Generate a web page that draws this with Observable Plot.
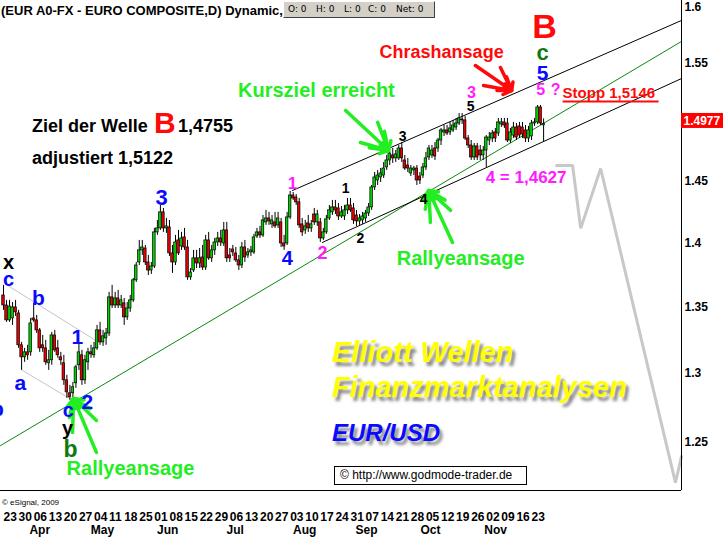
<!DOCTYPE html>
<html><head><meta charset="utf-8">
<script src="https://cdn.jsdelivr.net/npm/d3@7"></script>
<script src="https://cdn.jsdelivr.net/npm/@observablehq/plot@0.6"></script>
<style>
body{margin:0;background:#fff;}
#wrap{position:relative;width:723px;height:542px;overflow:hidden;font-family:"Liberation Sans",Arial,sans-serif;}
.ov{position:absolute;white-space:nowrap;line-height:1;}
</style></head><body><div id="wrap"></div>
<script>
// ---- daily candles (trading-day index 0 = Mon 23 Mar 2009) ----
const open = [
1.3588,1.3511,1.3397,1.3412,1.3496,1.3450,1.3209,1.3119,1.3156,1.3156,
1.3412,1.3397,1.3321,1.3209,1.3186,1.3075,1.3097,1.3283,1.3186,1.3119,
1.3075,1.2949,1.2854,1.2854,1.2927,1.3060,1.3134,1.2949,1.3082,1.3156,
1.3134,1.3186,1.3321,1.3231,1.3261,1.3298,1.3573,1.3511,1.3565,1.3511,
1.3527,1.3420,1.3488,1.3550,1.3705,1.3845,
1.3940,1.3955,1.3845,1.3782,1.3813,1.4083,1.4115,1.4244,1.4115,1.4123,
1.3916,1.3845,1.4019,1.3971,1.4043,1.3963,1.3728,1.3782,1.3877,1.3837,
1.3884,1.3805,1.4019,1.3877,1.3940,1.4003,1.4035,1.3995,1.4099,1.3900,
1.3947,1.3916,1.3861,1.3821,1.3963,1.3900,1.3924,1.3924,1.4051,1.4083,
1.4059,1.4163,1.4195,1.4147,1.4163,
1.4139,1.4163,1.3995,1.3995,1.4203,1.4381,1.4365,1.4325,1.4147,1.4099,
1.4155,1.4115,1.4227,1.4163,1.4163,1.4035,1.4083,1.4195,1.4244,1.4284,
1.4276,1.4211,1.4211,1.4260,1.4300,1.4276,1.4219,1.4171,1.4179,1.4195,
1.4235,1.4284,1.4447,1.4504,1.4529,1.4545,1.4612,1.4670,1.4712,1.4687,
1.4687,1.4770,
1.4670,1.4628,1.4562,1.4587,1.4603,1.4537,1.4545,1.4612,1.4695,1.4712,
1.4770,1.4770,1.4837,1.4905,1.4922,1.4905,1.4922,1.4947,1.4981,1.5015,
1.5007,1.4854,1.4795,1.4695,1.4787,1.4753,1.4712,1.4753,1.4837,1.4854,
1.4905,1.4896,1.4973,1.4990,1.4981,1.4837,1.4879,1.4947,1.4956,1.4947,
1.4922,1.4854,1.4871,1.4981,1.4990,1.5118,1.4965];
const high = [
1.3666,1.3550,1.3550,1.3534,1.3550,1.3473,1.3231,1.3186,1.3209,1.3412,
1.3527,1.3435,1.3336,1.3283,1.3246,1.3171,1.3306,1.3321,1.3246,1.3156,
1.3134,1.2986,1.2912,1.2934,1.3060,1.3231,1.3171,1.3134,1.3186,1.3209,
1.3231,1.3359,1.3382,1.3321,1.3336,1.3612,1.3666,1.3612,1.3627,1.3588,
1.3565,1.3534,1.3588,1.3720,1.3845,1.4019,
1.4019,1.3979,1.3900,1.3845,1.4115,1.4179,1.4300,1.4276,1.4195,1.4179,
1.3979,1.4059,1.4099,1.4083,1.4115,1.4019,1.3797,1.3940,1.3940,1.3955,
1.3979,1.4059,1.4083,1.3979,1.4035,1.4083,1.4099,1.4163,1.4163,1.3955,
1.3979,1.3963,1.3900,1.4003,1.4019,1.3955,1.3971,1.4067,1.4115,1.4131,
1.4219,1.4260,1.4244,1.4219,1.4244,
1.4244,1.4195,1.4059,1.4244,1.4414,1.4406,1.4389,1.4357,1.4195,1.4179,
1.4219,1.4179,1.4276,1.4260,1.4195,1.4115,1.4219,1.4300,1.4341,1.4341,
1.4316,1.4292,1.4300,1.4357,1.4357,1.4316,1.4260,1.4227,1.4244,1.4260,
1.4316,1.4463,1.4570,1.4587,1.4603,1.4653,1.4712,1.4770,1.4770,1.4753,
1.4795,1.4820,
1.4712,1.4687,1.4628,1.4620,1.4628,1.4570,1.4645,1.4737,1.4795,1.4795,
1.4820,1.4854,1.4939,1.4964,1.4964,1.4990,1.5007,1.5024,1.5066,1.5066,
1.5041,1.4879,1.4837,1.4812,1.4812,1.4795,1.4787,1.4879,1.4905,1.4922,
1.4939,1.5024,1.5024,1.5024,1.5024,1.4939,1.4990,1.4981,1.4990,1.4990,
1.4964,1.4956,1.5007,1.5024,1.5135,1.5135,1.5020];
const low = [
1.3473,1.3382,1.3382,1.3359,1.3427,1.3186,1.3022,1.3082,1.3097,1.3127,
1.3382,1.3298,1.3156,1.3156,1.3060,1.3022,1.3060,1.3156,1.3112,1.3060,
1.2912,1.2817,1.2803,1.2817,1.2890,1.3022,1.2912,1.2919,1.3022,1.3112,
1.3112,1.3171,1.3209,1.3201,1.3209,1.3276,1.3488,1.3488,1.3488,1.3488,
1.3359,1.3397,1.3458,1.3534,1.3689,1.3821,
1.3900,1.3821,1.3743,1.3751,1.3797,1.4059,1.4099,1.4083,1.4075,1.3892,
1.3759,1.3821,1.3900,1.3940,1.3940,1.3705,1.3705,1.3766,1.3797,1.3797,
1.3782,1.3782,1.3861,1.3845,1.3900,1.3971,1.3971,1.3971,1.3845,1.3845,
1.3892,1.3845,1.3782,1.3797,1.3845,1.3877,1.3892,1.3908,1.4035,1.4035,
1.4043,1.4139,1.4139,1.4115,1.4115,
1.4115,1.3963,1.3940,1.3979,1.4187,1.4341,1.4300,1.4115,1.4051,1.4067,
1.4083,1.4083,1.4139,1.4131,1.4003,1.4019,1.4067,1.4179,1.4219,1.4227,
1.4179,1.4195,1.4179,1.4227,1.4244,1.4147,1.4131,1.4139,1.4147,1.4163,
1.4211,1.4260,1.4422,1.4463,1.4487,1.4520,1.4587,1.4628,1.4645,1.4653,
1.4670,1.4653,
1.4587,1.4570,1.4537,1.4545,1.4463,1.4471,1.4520,1.4587,1.4670,1.4687,
1.4670,1.4737,1.4795,1.4871,1.4879,1.4879,1.4905,1.4922,1.4964,1.4973,
1.4837,1.4770,1.4670,1.4670,1.4670,1.4670,1.4670,1.4612,1.4795,1.4820,
1.4820,1.4871,1.4947,1.4939,1.4820,1.4812,1.4854,1.4837,1.4854,1.4854,
1.4820,1.4820,1.4837,1.4956,1.4973,1.4964,1.4820];
const close = [
1.3511,1.3397,1.3503,1.3496,1.3458,1.3209,1.3119,1.3156,1.3134,1.3374,
1.3397,1.3321,1.3186,1.3186,1.3082,1.3097,1.3283,1.3171,1.3134,1.3097,
1.2949,1.2861,1.2825,1.2898,1.3045,1.3156,1.2949,1.3097,1.3156,1.3141,
1.3186,1.3321,1.3231,1.3276,1.3298,1.3573,1.3511,1.3565,1.3511,1.3550,
1.3420,1.3488,1.3550,1.3705,1.3821,1.3940,
1.3963,1.3845,1.3782,1.3813,1.4083,1.4115,1.4244,1.4115,1.4131,1.3916,
1.3845,1.4003,1.3916,1.4035,1.3963,1.3728,1.3766,1.3877,1.3837,1.3877,
1.3805,1.4019,1.3877,1.3940,1.4003,1.4035,1.4003,1.4099,1.3877,1.3877,
1.3924,1.3861,1.3821,1.3963,1.3884,1.3924,1.3940,1.4043,1.4083,1.4059,
1.4179,1.4195,1.4171,1.4179,1.4131,
1.4195,1.3995,1.3971,1.4203,1.4381,1.4357,1.4325,1.4139,1.4083,1.4131,
1.4115,1.4147,1.4163,1.4227,1.4035,1.4083,1.4187,1.4260,1.4284,1.4260,
1.4211,1.4244,1.4260,1.4300,1.4260,1.4179,1.4171,1.4195,1.4211,1.4235,
1.4284,1.4447,1.4529,1.4545,1.4562,1.4603,1.4670,1.4728,1.4687,1.4720,
1.4770,1.4687,
1.4603,1.4603,1.4603,1.4603,1.4504,1.4504,1.4612,1.4687,1.4770,1.4753,
1.4703,1.4837,1.4922,1.4922,1.4896,1.4939,1.4964,1.4981,1.5024,1.5007,
1.4854,1.4795,1.4695,1.4787,1.4695,1.4712,1.4753,1.4862,1.4862,1.4896,
1.4854,1.4990,1.4990,1.4964,1.4837,1.4905,1.4947,1.4862,1.4879,1.4888,
1.4854,1.4922,1.4981,1.4990,1.5118,1.4981,1.4977];

// ---- axis labels ----
const weekLabels = ["23","30","06","13","20","27","04","11","18","25","01","08","15","22","29","06","13","20","27","03","10","17","24","31","07","14","21","28","05","12","19","26","02","09","16","23"];
const months = ["Apr","May","Jun","Jul","Aug","Sep","Oct","Nov"];
const monthAt = [12, 32.8, 54.4, 76.8, 99.8, 120.3, 141.5, 163.1];
const yTicks = [1.25, 1.3, 1.35, 1.4, 1.45, 1.55, 1.6];

// ---- drawn trend lines (trading-day index, price) ----
const upperChannel = [[95.8, 1.4422], [224.7, 1.5883]];
const lowerChannel = [[105.7, 1.4003], [224.7, 1.5368]];
const greenTrend = [[-0.994, 1.2478], [224.7, 1.5695]];
const greyUpper = [[1.33, 1.3666], [30.5, 1.3246]];
const greyLower = [[6.3, 1.3022], [22.9, 1.2803]];
const projection = [[183.3,1.4628],[188.6,1.4628],[191.3,1.4115],[197.9,1.4603],[222.7,1.2219],[224.7,1.2402]];

// ---- annotations ----
const BLUE="#0a0aff", MAG="#ff1aff", DKG="#107a10", LG="#22ee22", RED="#ff0a0a";
const labels = [
 {t:"x", i:1.66, p:1.3845, c:"#000", s:20},
 {t:"c", i:1.66, p:1.3712, c:BLUE, s:20},
 {t:"b", i:11.6, p:1.3565, c:BLUE, s:21},
 {t:"a", i:5.6, p:1.2927, c:BLUE, s:21},
 {t:"b", i:-2.0, p:1.2737, c:BLUE, s:21},
 {t:"1", i:24.5, p:1.3268, c:BLUE, s:21},
 {t:"2", i:27.8, p:1.2788, c:BLUE, s:21},
 {t:"c", i:21.5, p:1.2728, c:BLUE, s:20},
 {t:"y", i:21.2, p:1.2596, c:"#000", s:20},
 {t:"b", i:22.2, p:1.2450, c:DKG, s:23},
 {t:"3", i:52.4, p:1.4357, c:BLUE, s:22},
 {t:"4", i:94.1, p:1.3877, c:BLUE, s:20},
 {t:"1", i:95.8, p:1.4479, c:MAG, s:17},
 {t:"2", i:105.7, p:1.3916, c:MAG, s:18},
 {t:"1", i:113.4, p:1.4438, c:"#000", s:14},
 {t:"2", i:118.3, p:1.4035, c:"#000", s:14},
 {t:"3", i:132.3, p:1.4871, c:"#000", s:14},
 {t:"4", i:139.2, p:1.4349, c:"#000", s:14},
 {t:"5", i:154.8, p:1.5126, c:"#000", s:14},
 {t:"3", i:155.1, p:1.5247, c:MAG, s:16},
 {t:"5", i:178.0, p:1.5273, c:MAG, s:16},
 {t:"?", i:183.0, p:1.5273, c:MAG, s:16},
 {t:"5", i:178.7, p:1.5415, c:BLUE, s:21},
 {t:"c", i:178.7, p:1.5595, c:DKG, s:22},
 {t:"B", i:179.3, p:1.5820, c:RED, s:34},
 {t:"Chrashansage", i:145.2, p:1.5597, c:RED, s:18},
 {t:"Kursziel erreicht", i:103.7, p:1.5264, c:LG, s:20},
 {t:"Rallyeansage", i:42.1, p:1.2317, c:LG, s:20},
 {t:"Rallyeansage", i:151.5, p:1.3877, c:LG, s:20}
];
const startLabels = [
 {t:"4 = 1,4627", i:159.8, p:1.4529, c:MAG, s:17},
 {t:"Stopp 1,5146", i:185.3, p:1.5238, c:RED, s:15}
];
const stoppUnderline = [{i1:185.3, i2:217.1, p:1.5169}];
const arrows = [
 {x1:22.9, y1:1.2571, x2:23.2, y2:1.2817, c:LG},
 {x1:30.8, y1:1.2430, x2:23.2, y2:1.2817, c:LG},
 {x1:30.8, y1:1.2657, x2:23.2, y2:1.2817, c:LG},
 {x1:141.5, y1:1.4163, x2:140.9, y2:1.4422, c:LG},
 {x1:148.8, y1:1.4003, x2:140.9, y2:1.4422, c:LG},
 {x1:148.2, y1:1.4260, x2:140.9, y2:1.4422, c:LG},
 {x1:113.4, y1:1.5092, x2:127.6, y2:1.4753, c:LG},
 {x1:118.3, y1:1.4820, x2:127.6, y2:1.4753, c:LG},
 {x1:124.0, y1:1.4990, x2:127.6, y2:1.4753, c:LG},
 {x1:156.4, y1:1.5482, x2:168.4, y2:1.5264, c:RED},
 {x1:159.1, y1:1.5307, x2:168.4, y2:1.5264, c:RED},
 {x1:164.7, y1:1.5465, x2:168.4, y2:1.5264, c:RED}
];

const candles = open.map((o, k) => ({i: k, open: o, high: high[k], low: low[k], close: close[k]}));
const lastPrice = close[close.length - 1];
const X_MAX = 224.7, Y_MIN = 1.2164, Y_MAX = 1.6064;

const seg = (pts) => pts.map(([i, p]) => ({i, p}));

const chart = Plot.plot({
  width: 723, height: 542,
  marginLeft: 0, marginTop: 0, marginRight: 42, marginBottom: 52,
  style: {background: "white", fontFamily: "'Liberation Sans', Arial, sans-serif", fontSize: "12px", fontWeight: "bold", color: "black", overflow: "visible"},
  x: {domain: [-0.994, X_MAX], axis: null},
  y: {type: "log", domain: [Y_MIN, Y_MAX], axis: "right", ticks: yTicks, tickFormat: d => String(d), tickSize: 0, tickPadding: 3, label: null},
  marks: [
    Plot.line(seg(greyUpper), {x: "i", y: "p", stroke: "#c4c4c4", strokeWidth: 1}),
    Plot.line(seg(greyLower), {x: "i", y: "p", stroke: "#c4c4c4", strokeWidth: 1}),
    Plot.line(seg(greenTrend), {x: "i", y: "p", stroke: "#0a8a0a", strokeWidth: 1}),
    Plot.line(seg(upperChannel), {x: "i", y: "p", stroke: "#000", strokeWidth: 1}),
    Plot.line(seg(lowerChannel), {x: "i", y: "p", stroke: "#000", strokeWidth: 1}),
    Plot.ruleX(candles, {x: "i", y1: "low", y2: "high", stroke: "#000", strokeWidth: 1}),
    Plot.rect(candles, {x1: d => d.i - 0.42, x2: d => d.i + 0.42, y1: "open", y2: "close",
      fill: d => d.close >= d.open ? "#00d200" : "#e60000", stroke: "#000", strokeWidth: 0.7}),
    Plot.line(seg(projection), {x: "i", y: "p", stroke: "#c8c8c8", strokeWidth: 3, strokeLinejoin: "miter"}),
    Plot.ruleX([X_MAX], {stroke: "#000", strokeWidth: 1}),
    Plot.ruleY([Y_MIN], {stroke: "#000", strokeWidth: 1}),
    Plot.arrow(arrows, {x1: "x1", y1: "y1", x2: "x2", y2: "y2", stroke: d => d.c, strokeWidth: 3.5, headLength: 9, headAngle: 70}),
    Plot.text(labels, {x: "i", y: "p", text: "t", fill: d => d.c, fontSize: d => d.s, fontWeight: "bold"}),
    Plot.text(startLabels, {x: "i", y: "p", text: "t", fill: d => d.c, fontSize: d => d.s, fontWeight: "bold", textAnchor: "start"}),
    Plot.link(stoppUnderline, {x1: "i1", x2: "i2", y1: "p", y2: "p", stroke: RED, strokeWidth: 2}),
    Plot.rect([lastPrice], {x1: X_MAX, x2: X_MAX, y1: d => d, y2: d => d, insetLeft: 0, insetRight: -42, insetTop: -10.5, insetBottom: -4.5, fill: "#ff0000"}),
    Plot.text([lastPrice], {x: X_MAX, y: d => d, text: d => String(d), dx: 2, dy: -3, textAnchor: "start", fill: "white", fontSize: 12, fontWeight: "bold"}),
    Plot.text(weekLabels, {x: (d, k) => k * 5, text: d => d, frameAnchor: "bottom", dy: 30, textAnchor: "start", fontSize: 12, fontWeight: "bold"}),
    Plot.text(months, {x: (d, k) => monthAt[k], text: d => d, frameAnchor: "bottom", dy: 43, fontSize: 12, fontWeight: "bold"})
  ]
});
const wrap = document.getElementById("wrap");
wrap.appendChild(chart);

function ov(html, css) {
  const d = document.createElement("div");
  d.className = "ov";
  d.innerHTML = html;
  d.style.cssText += css;
  wrap.appendChild(d);
  return d;
}
ov("(EUR A0-FX - EURO COMPOSITE,D) Dynamic,", "left:1px;top:4px;font-size:13px;font-weight:bold;");
const box = ov("", "left:283px;top:1px;width:150px;height:15px;background:#d4d0c8;border-top:1px solid #fff;border-left:1px solid #fff;border-right:1px solid #404040;border-bottom:1px solid #404040;font-family:'DejaVu Sans',sans-serif;font-size:9px;");
[["O: 0",4],["H: 0",32],["L: 0",60],["C: 0",84],["Net: 0",112]].forEach(([t, x]) => {
  const s = document.createElement("span");
  s.textContent = t; s.style.cssText = "position:absolute;top:3px;left:" + x + "px;";
  box.appendChild(s);
});
ov("Ziel der Welle", "left:32px;top:117px;font-size:18px;font-weight:bold;");
ov("B", "left:154px;top:108px;font-size:30px;font-weight:bold;color:#ff0a0a;");
ov("1,4755", "left:178px;top:117px;font-size:18px;font-weight:bold;");
ov("adjustiert 1,5122", "left:32px;top:149px;font-size:18px;font-weight:bold;");
const sh = "text-shadow:3px 4px 3px rgba(60,60,60,0.6);font-style:italic;font-weight:bold;";
ov("Elliott Wellen", "left:332px;top:338px;font-size:29px;color:#ffff00;" + sh);
ov("Finanzmarktanalysen", "left:332px;top:373px;font-size:29px;color:#ffff00;" + sh);
ov("EUR/USD", "left:332px;top:421px;font-size:24px;color:#0a0aff;" + sh);
ov("&copy; http://www.godmode-trader.de", "left:334px;top:466px;width:186px;height:17px;border:1px solid #000;background:#fff;font-size:12px;line-height:17px;padding-left:5px;");
ov("&copy; eSignal, 2009", "left:2px;top:499px;font-size:8px;");
</script></body></html>
